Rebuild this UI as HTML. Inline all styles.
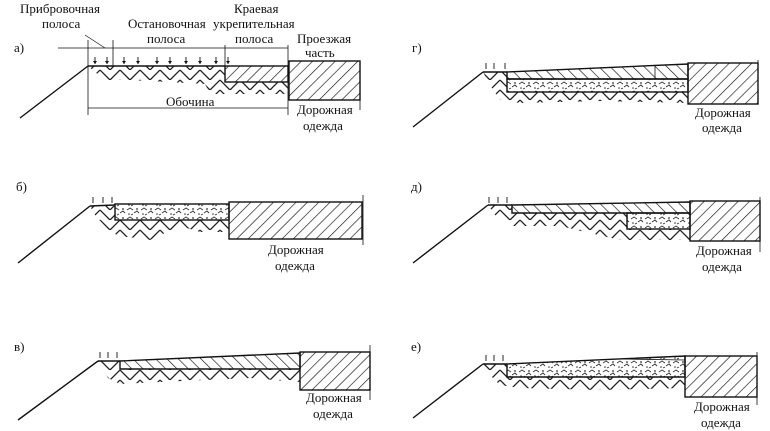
<!DOCTYPE html>
<html><head><meta charset="utf-8"><style>
html,body{margin:0;padding:0;background:#fff;width:770px;height:431px;overflow:hidden}
svg text{font-family:"Liberation Serif","DejaVu Serif",serif;font-size:13px;fill:#111}
</style></head><body>
<svg width="770" height="431" viewBox="0 0 770 431" xmlns="http://www.w3.org/2000/svg">
<defs>
<pattern id="fw" width="8" height="8" patternUnits="userSpaceOnUse" patternTransform="rotate(45)">
<line x1="0" y1="0" x2="0" y2="8" stroke="#111" stroke-width="1.3"/></pattern>
<pattern id="bw" width="8" height="8" patternUnits="userSpaceOnUse" patternTransform="rotate(-45)">
<line x1="0" y1="0" x2="0" y2="8" stroke="#111" stroke-width="1.3"/></pattern>
<pattern id="soil" width="20" height="10" patternUnits="userSpaceOnUse">
<path d="M0 0 L10 10 M-10 0 L0 10 M10 10 L20 0 M20 10 L30 0" stroke="#222" stroke-width="1.3" fill="none"/></pattern>
<pattern id="grav" width="14" height="9" patternUnits="userSpaceOnUse">
<path d="M1 3 l3 -2 l3 2 M8 6 l3 -2 l2 2 M5 8 l2 -1" stroke="#333" stroke-width="0.9" fill="none"/>
<circle cx="11" cy="2" r="0.9" fill="#333"/><circle cx="3" cy="7" r="0.8" fill="#333"/></pattern>
</defs>
<g stroke="#111" fill="none" stroke-width="1.4">

<!-- а -->
<text x="14" y="52" stroke="none">а)</text>
<text x="20" y="13" stroke="none">Прибровочная</text>
<text x="42" y="28" stroke="none">полоса</text>
<text x="128" y="28" stroke="none">Остановочная</text>
<text x="147" y="43" stroke="none">полоса</text>
<text x="234" y="13" stroke="none">Краевая</text>
<text x="213" y="28" stroke="none">укрепительная</text>
<text x="235" y="43" stroke="none">полоса</text>
<text x="297" y="43" stroke="none">Проезжая</text>
<text x="305" y="57" stroke="none">часть</text>
<text x="297" y="114" stroke="none">Дорожная</text>
<text x="303" y="130" stroke="none">одежда</text>
<text x="166" y="106" stroke="none">Обочина</text>
<polygon points="88,66 225,66 225,82 288,82 288,94 210,94 205,84 130,80 105,80 95,72" fill="url(#soil)" stroke="none"/>
<rect x="225" y="66" width="63" height="16" fill="url(#fw)"/>
<rect x="289" y="61" width="71" height="39" fill="url(#fw)"/>
<line x1="20" y1="118" x2="88" y2="66"/>
<line x1="88" y1="66" x2="225" y2="66"/>
<line x1="58" y1="48" x2="288" y2="48" stroke-width="0.8"/>
<line x1="88" y1="40" x2="88" y2="115" stroke-width="0.8"/>
<line x1="113" y1="40" x2="113" y2="66" stroke-width="0.8"/>
<line x1="225" y1="45" x2="225" y2="66" stroke-width="0.8"/>
<line x1="288" y1="45" x2="288" y2="115" stroke-width="0.8"/>
<line x1="88" y1="108" x2="288" y2="108" stroke-width="0.8"/>
<line x1="360" y1="61" x2="360" y2="110" stroke-width="0.8"/>
<line x1="85" y1="35" x2="105" y2="48" stroke-width="0.7"/>
<g stroke-width="0.9">
<path d="M95 57v7M107 57v7M124 57v7M138 57v7M157 57v7M170 57v7M186 57v7M200 57v7M216 57v7M228 57v7"/></g>
<g fill="#111" stroke="none">
<path d="M93 61h4l-2 3zM105 61h4l-2 3zM122 61h4l-2 3zM136 61h4l-2 3zM155 61h4l-2 3zM168 61h4l-2 3zM184 61h4l-2 3zM198 61h4l-2 3zM214 61h4l-2 3zM226 61h4l-2 3z"/></g>

<!-- б -->
<text x="16" y="191" stroke="none">б)</text>
<polygon points="90,206 115,206 115,220 229,220 229,232 200,232 180,226 150,240 120,236 110,232 95,215" fill="url(#soil)" stroke="none"/>
<rect x="115" y="204" width="114" height="16" fill="url(#grav)"/>
<rect x="229" y="202" width="133" height="37" fill="url(#fw)"/>
<line x1="18" y1="263" x2="90" y2="206"/>
<line x1="90" y1="206" x2="115" y2="205"/>
<line x1="363" y1="195" x2="363" y2="245" stroke-width="0.8"/>
<path d="M93 197v6M103 197v6M112 197v6" stroke-width="0.9"/>
<text x="268" y="254" stroke="none">Дорожная</text>
<text x="275" y="270" stroke="none">одежда</text>

<!-- в -->
<text x="14" y="351" stroke="none">в)</text>
<polygon points="98,361 120,361 120,369 300,369 300,382 250,378 160,382 120,384 108,378" fill="url(#soil)" stroke="none"/>
<polygon points="120,361 300,353 300,369 120,369" fill="url(#bw)"/>
<rect x="300" y="352" width="70" height="38" fill="url(#fw)"/>
<line x1="18" y1="420" x2="98" y2="361"/>
<line x1="98" y1="361" x2="120" y2="361"/>
<line x1="370" y1="345" x2="370" y2="400" stroke-width="0.8"/>
<path d="M100 352v6M108 352v6M117 352v6" stroke-width="0.9"/>
<text x="306" y="402" stroke="none">Дорожная</text>
<text x="313" y="418" stroke="none">одежда</text>

<!-- г -->
<text x="412" y="52" stroke="none">г)</text>
<polygon points="483,72 507,72 507,92 688,92 688,103 600,101 520,103 500,100 490,85" fill="url(#soil)" stroke="none"/>
<polygon points="507,72 688,64 688,79 507,79" fill="url(#bw)"/>
<rect x="507" y="79" width="181" height="13" fill="url(#grav)"/>
<line x1="655" y1="66" x2="655" y2="79" stroke-width="0.8"/>
<rect x="688" y="63" width="70" height="41" fill="url(#fw)"/>
<line x1="413" y1="127" x2="483" y2="72"/>
<line x1="483" y1="72" x2="507" y2="72"/>
<line x1="758" y1="60" x2="758" y2="104" stroke-width="0.8"/>
<path d="M486 63v6M494 63v6M505 63v6" stroke-width="0.9"/>
<text x="695" y="117" stroke="none">Дорожная</text>
<text x="702" y="132" stroke="none">одежда</text>

<!-- д -->
<text x="411" y="191" stroke="none">д)</text>
<polygon points="488,205 512,205 512,213 627,213 627,229 690,229 690,240 620,240 560,226 510,226 495,215" fill="url(#soil)" stroke="none"/>
<polygon points="512,205 690,202 690,213 512,213" fill="url(#bw)"/>
<rect x="627" y="213" width="63" height="16" fill="url(#grav)"/>
<rect x="690" y="201" width="70" height="40" fill="url(#fw)"/>
<line x1="413" y1="263" x2="488" y2="205"/>
<line x1="488" y1="205" x2="512" y2="205"/>
<line x1="760" y1="197" x2="760" y2="252" stroke-width="0.8"/>
<path d="M489 197v6M498 197v6M507 197v6" stroke-width="0.9"/>
<text x="696" y="255" stroke="none">Дорожная</text>
<text x="702" y="271" stroke="none">одежда</text>

<!-- е -->
<text x="411" y="351" stroke="none">е)</text>
<polygon points="483,364 507,364 507,377 685,377 685,388 600,390 520,388 500,385 490,375" fill="url(#soil)" stroke="none"/>
<polygon points="507,364 685,356 685,377 507,377" fill="url(#grav)"/>
<line x1="622" y1="359" x2="685" y2="360" stroke-width="0.8"/>
<rect x="685" y="356" width="72" height="41" fill="url(#fw)"/>
<line x1="413" y1="418" x2="483" y2="364"/>
<line x1="483" y1="364" x2="507" y2="364"/>
<line x1="757" y1="352" x2="757" y2="405" stroke-width="0.8"/>
<path d="M486 355v6M494 355v6M503 355v6" stroke-width="0.9"/>
<text x="694" y="411" stroke="none">Дорожная</text>
<text x="701" y="427" stroke="none">одежда</text>
</g>
</svg>
</body></html>
